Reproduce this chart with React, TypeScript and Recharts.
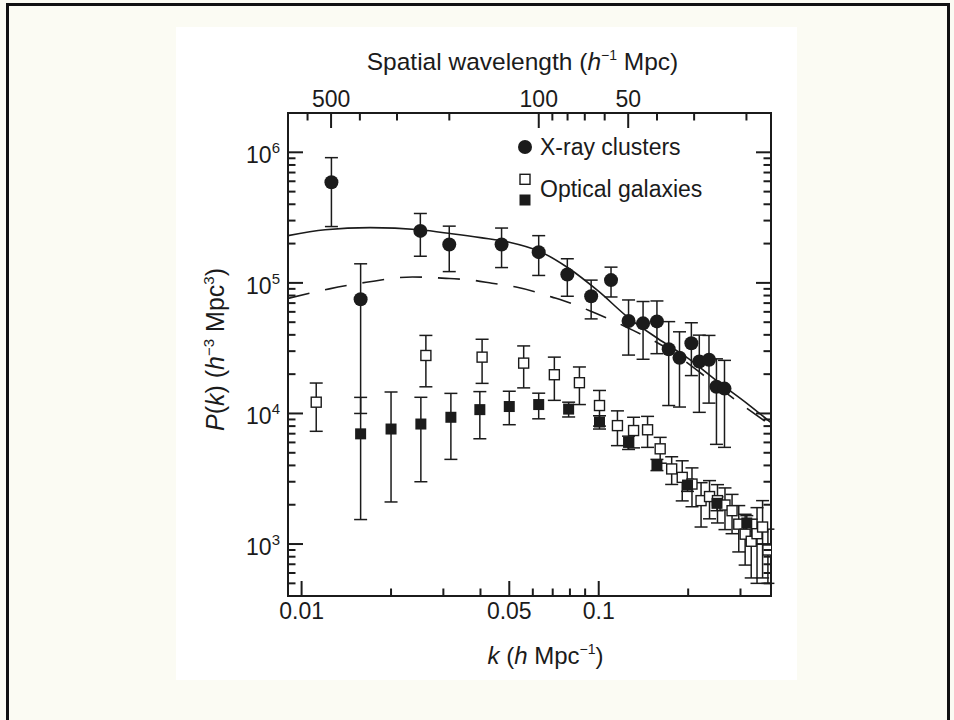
import React from 'react';
import { ComposedChart, Scatter, Line, XAxis, YAxis, ErrorBar, Legend } from 'recharts';

const FONT = '"Liberation Sans", Arial, Helvetica, sans-serif';
const INK = '#1b1b1b';
const PAGE = '#fbfbf3';

// X-ray clusters: wavenumber, power, 1-sigma error
const xrayK = [0.0126, 0.0158, 0.0251, 0.0314, 0.0471, 0.0628, 0.0784, 0.0943, 0.110, 0.126, 0.141, 0.157, 0.172, 0.187, 0.205, 0.218, 0.235, 0.249, 0.265];
const xrayP = [5.9e5, 7.5e4, 2.5e5, 1.97e5, 1.97e5, 1.72e5, 1.16e5, 7.9e4, 1.05e5, 5.1e4, 4.9e4, 5.07e4, 3.1e4, 2.67e4, 3.45e4, 2.5e4, 2.58e4, 1.6e4, 1.55e4];
const xrayErr = [3.2e5, 6.5e4, 9.0e4, 7.5e4, 6.6e4, 5.8e4, 3.7e4, 2.6e4, 2.7e4, 2.3e4, 2.3e4, 2.2e4, 1.95e4, 1.55e4, 1.5e4, 1.48e4, 1.38e4, 1.02e4, 1.0e4];

// Optical galaxies, open squares
const openK = [0.0112, 0.0262, 0.0405, 0.0559, 0.0709, 0.0861, 0.1006, 0.1156, 0.131, 0.146, 0.161, 0.176, 0.191, 0.206, 0.221, 0.236, 0.251, 0.266, 0.281, 0.296, 0.311, 0.326, 0.341, 0.356, 0.371];
const openP = [1.22e4, 2.78e4, 2.7e4, 2.43e4, 1.98e4, 1.72e4, 1.15e4, 8.07e3, 7.4e3, 7.5e3, 5.36e3, 3.76e3, 3.24e3, 2.88e3, 2.15e3, 2.31e3, 2.15e3, 1.99e3, 1.8e3, 1.42e3, 1.19e3, 1.05e3, 1.2e3, 1.35e3, 9.0e2];
const openErr = [4.9e3, 1.18e4, 1.0e4, 8.6e3, 7.2e3, 5.5e3, 3.5e3, 2.4e3, 1.95e3, 2.0e3, 1.2e3, 9.0e2, 1.1e3, 9.5e2, 8.0e2, 7.5e2, 7.0e2, 7.0e2, 6.0e2, 5.5e2, 5.0e2, 5.0e2, 7.0e2, 8.0e2, 4.0e2];

// Optical galaxies, filled squares (asymmetric errors)
const fillK = [0.0158, 0.0200, 0.0252, 0.0318, 0.0398, 0.0500, 0.0628, 0.0792, 0.1006, 0.126, 0.157, 0.199, 0.250, 0.315];
const fillP = [6.98e3, 7.6e3, 8.3e3, 9.35e3, 1.07e4, 1.13e4, 1.17e4, 1.08e4, 8.6e3, 6.0e3, 4.05e3, 2.83e3, 2.05e3, 1.45e3];
const fillErrLo = [5.44e3, 5.5e3, 5.3e3, 4.9e3, 4.3e3, 3.1e3, 2.6e3, 1.4e3, 1.0e3, 7.0e2, 4.0e2, 3.0e2, 2.5e2, 2.0e2];
const fillErrHi = [6.3e3, 7.0e3, 5.0e3, 4.9e3, 4.0e3, 3.5e3, 2.6e3, 1.4e3, 1.0e3, 7.0e2, 4.0e2, 3.0e2, 2.5e2, 2.0e2];

// Model spectra
const solidK = [0.009, 0.012, 0.017, 0.025, 0.032, 0.040, 0.050, 0.063, 0.079, 0.100, 0.126, 0.158, 0.200, 0.251, 0.316, 0.38];
const solidP = [2.3e5, 2.55e5, 2.65e5, 2.55e5, 2.38e5, 2.22e5, 2.05e5, 1.75e5, 1.3e5, 8.6e4, 5.4e4, 3.75e4, 2.64e4, 1.76e4, 1.19e4, 8.5e3];
const dashK = [0.009, 0.0124, 0.0165, 0.0236, 0.0314, 0.0375, 0.0437, 0.0527, 0.0616, 0.0697, 0.0813, 0.0928, 0.111, 0.124, 0.172, 0.219, 0.276, 0.38];
const dashP = [7.6e4, 9.0e4, 1.01e5, 1.11e5, 1.08e5, 1.05e5, 9.95e4, 9.29e4, 8.5e4, 7.78e4, 6.92e4, 6.15e4, 5.16e4, 4.58e4, 3.09e4, 2.06e4, 1.37e4, 8.1e3];

// Axes
const K_DOMAIN = [0.009, 0.38];
const P_DOMAIN = [400, 2e6];
const kTicks = [0.01, 0.02, 0.03, 0.04, 0.05, 0.06, 0.07, 0.08, 0.09, 0.1, 0.2, 0.3];
const kLabelled = [0.01, 0.05, 0.1];
const waveTicks = [600, 500, 400, 300, 200, 100, 90, 80, 70, 60, 50, 40, 30, 20];
const waveLabelled = [500, 100, 50];
const pDecades = [100, 1e3, 1e4, 1e5, 1e6];
const pMantissas = [1, 2, 3, 4, 5, 6, 7, 8, 9];

const pTicks = pDecades
  .flatMap((d) => pMantissas.map((m) => m * d))
  .filter((v) => v >= P_DOMAIN[0] && v <= 1e6);
const waveTickK = waveTicks.map((w) => (2 * Math.PI) / w);

const xrayData = xrayK.map((k, i) => ({ k, p: xrayP[i], err: xrayErr[i] }));
const openData = openK.map((k, i) => ({ k, p: openP[i], err: openErr[i] }));
const fillData = fillK.map((k, i) => ({ k, p: fillP[i], err: [fillErrLo[i], fillErrHi[i]] }));
const solidData = solidK.map((k, i) => ({ k, p: solidP[i] }));
const dashData = dashK.map((k, i) => ({ k, p: dashP[i] }));

const MAJOR = 15;
const MINOR = 7.5;
const TICK_FS = 23;

const isDecade = (v: number) => Math.abs(Math.log10(v) - Math.round(Math.log10(v))) < 1e-9;

const BottomTick = (props: any) => {
  const { x, y, payload } = props;
  const major = kLabelled.includes(payload.value);
  return (
    <g>
      <line x1={x} x2={x} y1={y} y2={y - (major ? MAJOR : MINOR)} stroke={INK} strokeWidth={2} />
      {major && (
        <text x={x} y={y + 23} textAnchor="middle" fontSize={TICK_FS} fontFamily={FONT} fill={INK}>
          {String(payload.value)}
        </text>
      )}
    </g>
  );
};

const TopTick = (props: any) => {
  const { x, y, payload } = props;
  const wave = Math.round((2 * Math.PI) / payload.value);
  const major = waveLabelled.includes(wave);
  return (
    <g>
      <line x1={x} x2={x} y1={y} y2={y + (major ? MAJOR : MINOR)} stroke={INK} strokeWidth={2} />
      {major && (
        <text x={x} y={y - 6} textAnchor="middle" fontSize={TICK_FS} fontFamily={FONT} fill={INK}>
          {String(wave)}
        </text>
      )}
    </g>
  );
};

const LeftTick = (props: any) => {
  const { x, y, payload } = props;
  const major = isDecade(payload.value);
  const exp = Math.round(Math.log10(payload.value));
  return (
    <g>
      <line x1={x} x2={x + (major ? MAJOR : MINOR)} y1={y} y2={y} stroke={INK} strokeWidth={2} />
      {major && (
        <text x={x - 8} y={y + 11} textAnchor="end" fontSize={TICK_FS} fontFamily={FONT} fill={INK}>
          10
          <tspan dy={-10} fontSize={15}>{String(exp)}</tspan>
        </text>
      )}
    </g>
  );
};

const RightTick = (props: any) => {
  const { x, y, payload } = props;
  const major = isDecade(payload.value);
  return <line x1={x} x2={x - (major ? MAJOR : MINOR)} y1={y} y2={y} stroke={INK} strokeWidth={2} />;
};

const TopTitle = (props: any) => {
  const { x, y, width, height } = props.viewBox;
  return (
    <text x={x + width / 2 - 7} y={y + height - 43} textAnchor="middle" fontSize={24.5} fontFamily={FONT} fill={INK}>
      Spatial wavelength (<tspan fontStyle="italic">h</tspan>
      <tspan dy={-10} fontSize={14}>−1</tspan>
      <tspan dy={10}> Mpc)</tspan>
    </text>
  );
};

const BottomTitle = (props: any) => {
  const { x, y, width } = props.viewBox;
  return (
    <text x={x + width / 2 + 16} y={y + 68} textAnchor="middle" fontSize={24} fontFamily={FONT} fill={INK}>
      <tspan fontStyle="italic">k</tspan> (<tspan fontStyle="italic">h</tspan> Mpc
      <tspan dy={-10} fontSize={14}>−1</tspan>
      <tspan dy={10}>)</tspan>
    </text>
  );
};

const LeftTitle = (props: any) => {
  const { x, y, height } = props.viewBox;
  const cx = x - 12;
  const cy = y + height / 2 - 5;
  return (
    <text
      x={cx}
      y={cy + 8}
      transform={`rotate(-90, ${cx}, ${cy})`}
      textAnchor="middle"
      fontSize={25}
      fontFamily={FONT}
      fill={INK}
    >
      <tspan fontStyle="italic">P</tspan>(<tspan fontStyle="italic">k</tspan>) (<tspan fontStyle="italic">h</tspan>
      <tspan dy={-10} fontSize={15}>−3</tspan>
      <tspan dy={10}> Mpc</tspan>
      <tspan dy={-10} fontSize={15}>3</tspan>
      <tspan dy={10}>)</tspan>
    </text>
  );
};

const LegendBox = () => (
  <svg width={240} height={84} style={{ display: 'block', overflow: 'visible' }}>
    <circle cx={20} cy={17} r={7} fill={INK} />
    <text x={35} y={25} fontSize={23} fontFamily={FONT} fill={INK}>X-ray clusters</text>
    <rect x={15} y={44.3} width={10} height={10} fill="#fff" stroke={INK} strokeWidth={1.4} />
    <rect x={14.5} y={64.5} width={11} height={11} fill={INK} />
    <text x={35} y={67} fontSize={23} fontFamily={FONT} fill={INK}>Optical galaxies</text>
  </svg>
);

const Circle = (props: any) => <circle cx={props.cx} cy={props.cy} r={7} fill={INK} />;
const OpenSquare = (props: any) => (
  <rect x={props.cx - 5} y={props.cy - 5} width={10} height={10} fill="#fff" stroke={INK} strokeWidth={1.4} />
);
const FilledSquare = (props: any) => (
  <rect x={props.cx - 5.5} y={props.cy - 5.5} width={11} height={11} fill={INK} />
);
const NoMark = () => <g />;

const axisLine = { stroke: INK, strokeWidth: 2, strokeLinecap: 'square' as const };

export default function App() {
  return (
    <div style={{ position: 'absolute', left: 0, top: 0, width: 954, height: 720, background: PAGE, overflow: 'hidden' }}>
      <div
        style={{
          position: 'absolute',
          left: 6,
          top: 3,
          width: 944,
          height: 780,
          border: '3px solid #111',
          boxSizing: 'border-box',
        }}
      />
      <div style={{ position: 'absolute', left: 176, top: 27, width: 621, height: 653, background: '#ffffff' }} />
      <div style={{ position: 'absolute', left: 0, top: 0 }}>
        <ComposedChart
          width={954}
          height={720}
          margin={{ top: 63, right: 173, bottom: 74, left: 228 }}
          style={{ fontFamily: FONT }}
        >
          <XAxis
            dataKey="k"
            type="number"
            scale="log"
            domain={K_DOMAIN}
            allowDataOverflow
            ticks={kTicks}
            interval={0}
            tick={<BottomTick />}
            tickLine={false}
            tickSize={0}
            tickMargin={0}
            axisLine={axisLine}
            height={50}
            label={BottomTitle}
          />
          <XAxis
            xAxisId="top"
            dataKey="k"
            orientation="top"
            type="number"
            scale="log"
            domain={K_DOMAIN}
            allowDataOverflow
            ticks={waveTickK}
            interval={0}
            tick={<TopTick />}
            tickLine={false}
            tickSize={0}
            tickMargin={0}
            axisLine={axisLine}
            height={50}
            label={TopTitle}
          />
          <YAxis
            dataKey="p"
            type="number"
            scale="log"
            domain={P_DOMAIN}
            allowDataOverflow
            ticks={pTicks}
            interval={0}
            tick={<LeftTick />}
            tickLine={false}
            tickSize={0}
            tickMargin={0}
            axisLine={axisLine}
            width={60}
            label={LeftTitle}
          />
          <YAxis
            yAxisId="right"
            dataKey="p"
            orientation="right"
            type="number"
            scale="log"
            domain={P_DOMAIN}
            allowDataOverflow
            ticks={pTicks}
            interval={0}
            tick={<RightTick />}
            tickLine={false}
            tickSize={0}
            tickMargin={0}
            axisLine={axisLine}
            width={10}
          />
          {/* binds the wavelength axis and the right-hand axis to the same k range */}
          <Scatter
            xAxisId="top"
            yAxisId="right"
            data={xrayData}
            shape={NoMark}
            isAnimationActive={false}
            legendType="none"
          />
          <Line
            data={solidData}
            dataKey="p"
            type="monotone"
            stroke={INK}
            strokeWidth={1.6}
            dot={false}
            activeDot={false}
            isAnimationActive={false}
          />
          <Line
            data={dashData}
            dataKey="p"
            type="monotone"
            stroke={INK}
            strokeWidth={1.6}
            strokeDasharray="22 16"
            dot={false}
            activeDot={false}
            isAnimationActive={false}
          />
          <Scatter data={openData} shape={OpenSquare} isAnimationActive={false}>
            <ErrorBar dataKey="err" direction="y" width={6.5} stroke={INK} strokeWidth={1.5} />
          </Scatter>
          <Scatter data={fillData} shape={FilledSquare} isAnimationActive={false}>
            <ErrorBar dataKey="err" direction="y" width={6.5} stroke={INK} strokeWidth={1.5} />
          </Scatter>
          <Scatter data={xrayData} shape={Circle} isAnimationActive={false}>
            <ErrorBar dataKey="err" direction="y" width={6.5} stroke={INK} strokeWidth={1.5} />
          </Scatter>
          <Legend
            content={LegendBox}
            layout="horizontal"
            verticalAlign="middle"
            align="center"
            wrapperStyle={{ position: 'absolute', left: 505, top: 130, width: 240, height: 84 }}
          />
        </ComposedChart>
      </div>
    </div>
  );
}
